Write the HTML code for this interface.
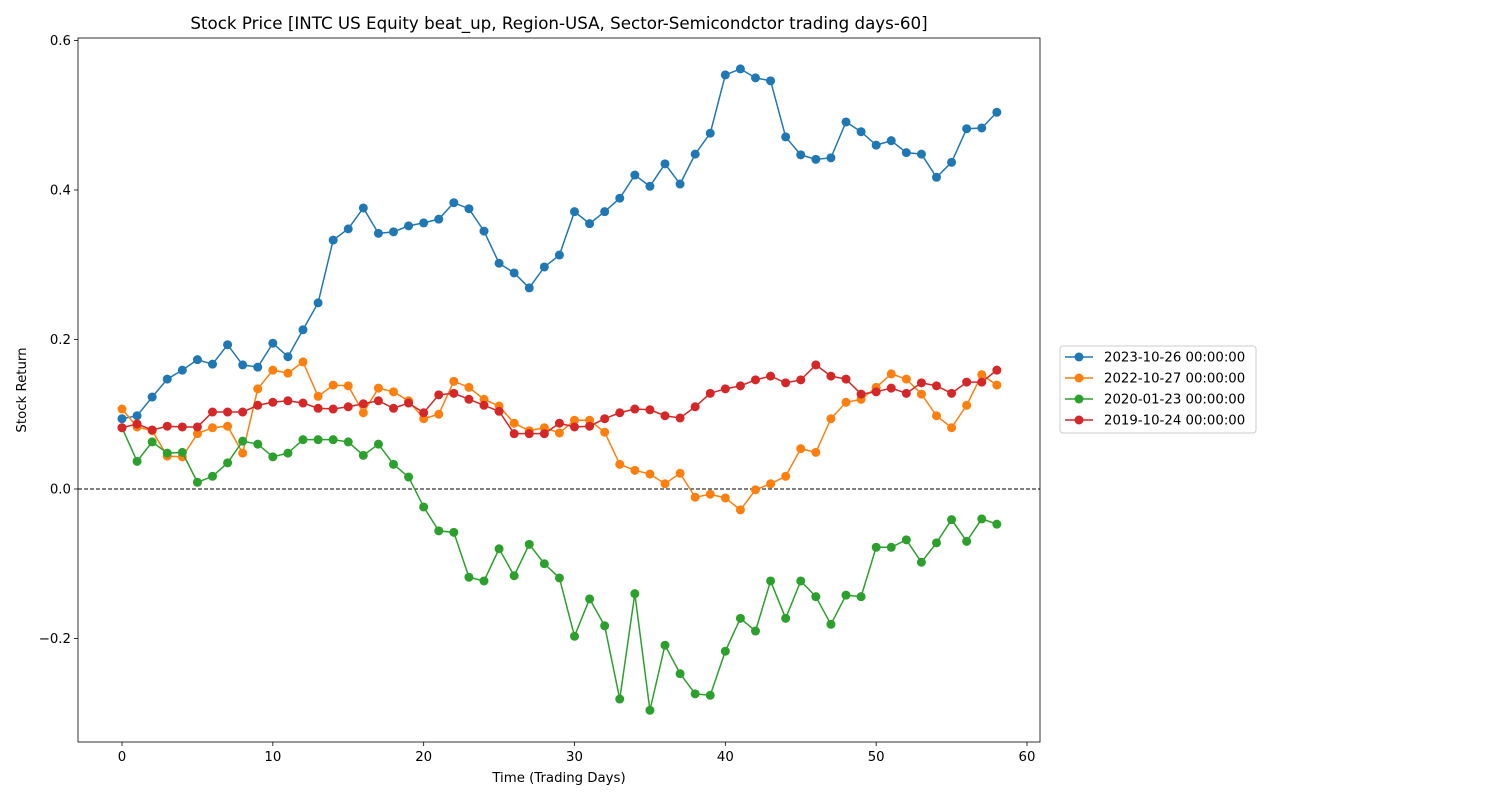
<!DOCTYPE html>
<html><head><meta charset="utf-8"><style>
body{margin:0;background:#fff;}
svg{display:block;font-family:"DejaVu Sans","Liberation Sans",sans-serif;}
</style></head><body>
<svg id="chart" width="1500" height="800"></svg>
<script>
const days = Array.from({length:59},(_,i)=>i);
const seriesNames = ["2023-10-26 00:00:00","2022-10-27 00:00:00","2020-01-23 00:00:00","2019-10-24 00:00:00"];
const seriesColors = ["#1f77b4","#ff7f0e","#2ca02c","#d62728"];
const blueVals = [0.094,0.098,0.123,0.147,0.159,0.173,0.167,0.193,0.166,0.163,0.195,0.177,0.213,0.249,0.333,0.348,0.376,0.342,0.344,0.352,0.356,0.361,0.383,0.375,0.345,0.302,0.289,0.269,0.297,0.313,0.371,0.355,0.371,0.389,0.420,0.405,0.435,0.408,0.448,0.476,0.554,0.562,0.550,0.546,0.471,0.447,0.441,0.443,0.491,0.478,0.460,0.466,0.450,0.448,0.417,0.437,0.482,0.483,0.504];
const orangeVals = [0.107,0.083,0.078,0.044,0.043,0.074,0.082,0.084,0.048,0.134,0.159,0.155,0.170,0.124,0.139,0.138,0.102,0.135,0.130,0.118,0.094,0.100,0.144,0.136,0.120,0.111,0.088,0.078,0.082,0.075,0.092,0.092,0.076,0.033,0.025,0.020,0.007,0.021,-0.011,-0.007,-0.012,-0.028,-0.001,0.007,0.017,0.054,0.049,0.094,0.116,0.120,0.136,0.154,0.147,0.127,0.098,0.082,0.112,0.153,0.139];
const greenVals = [0.082,0.037,0.063,0.048,0.049,0.009,0.017,0.035,0.064,0.060,0.043,0.048,0.066,0.066,0.066,0.063,0.045,0.060,0.033,0.016,-0.024,-0.056,-0.058,-0.118,-0.123,-0.080,-0.116,-0.074,-0.100,-0.119,-0.197,-0.147,-0.183,-0.281,-0.140,-0.296,-0.209,-0.247,-0.274,-0.276,-0.217,-0.173,-0.190,-0.123,-0.173,-0.123,-0.144,-0.181,-0.142,-0.144,-0.078,-0.078,-0.068,-0.098,-0.072,-0.041,-0.070,-0.040,-0.047];
const redVals = [0.082,0.087,0.079,0.084,0.083,0.083,0.103,0.103,0.103,0.112,0.116,0.118,0.115,0.108,0.107,0.110,0.114,0.118,0.108,0.115,0.102,0.126,0.128,0.120,0.112,0.104,0.074,0.074,0.074,0.088,0.083,0.084,0.094,0.102,0.107,0.106,0.098,0.095,0.110,0.128,0.134,0.138,0.146,0.151,0.142,0.146,0.166,0.151,0.147,0.127,0.130,0.135,0.128,0.142,0.138,0.128,0.143,0.143,0.159];
const xTicks = [0,10,20,30,40,50,60];
const yTicks = [-0.2,0.0,0.2,0.4,0.6];
const yTickLabels = ["\u22120.2","0.0","0.2","0.4","0.6"];

const NS="http://www.w3.org/2000/svg";
const svg=document.getElementById('chart');
const L=78,R=1040,T=38,B=742;
const xS=v=>122+v*(1027-122)/60;
const yS=v=>489-v*747.5;
function mk(tag,attrs,parent){const e=document.createElementNS(NS,tag);for(const k in attrs)e.setAttribute(k,attrs[k]);(parent||svg).appendChild(e);return e;}

const title=mk('text',{x:559,y:29,'text-anchor':'middle','font-size':16.7,fill:'#000'});
title.textContent="Stock Price [INTC US Equity beat_up, Region-USA, Sector-Semicondctor trading days-60]";



xTicks.forEach(t=>{
  const x=xS(t);
  const tk=mk('line',{x1:x,x2:x,y1:B,y2:B+4,stroke:'#000','stroke-width':0.8});
  
  
  const lb=mk('text',{x:x,y:B+19,'text-anchor':'middle','font-size':13.3});
  lb.textContent=t;
  
  
});
yTicks.forEach((t,i)=>{
  const y=yS(t);
  const tk=mk('line',{x1:L-4,x2:L,y1:y,y2:y,stroke:'#000','stroke-width':0.8});
  
  
  const lb=mk('text',{x:L-7,y:y+4.5,'text-anchor':'end','font-size':13.3});
  lb.textContent=yTickLabels[i];
  
  
});
const xl=mk('text',{x:559,y:782,'text-anchor':'middle','font-size':13.3});
xl.textContent="Time (Trading Days)";


const yl=mk('text',{x:26,y:390,'text-anchor':'middle','font-size':13.3,transform:'rotate(-90 26 390)'});
yl.textContent="Stock Return";



const zl=mk('line',{x1:L,x2:R,y1:yS(0),y2:yS(0),stroke:'#000','stroke-width':1,'stroke-dasharray':'4,2'});



const allVals=[blueVals,orangeVals,greenVals,redVals];
allVals.forEach((vals,si)=>{
  const g=mk('g',{});
  
  
  const pts=vals.map((v,i)=>xS(days[i])+','+yS(v)).join(' ');
  const pl=mk('polyline',{points:pts,fill:'none',stroke:seriesColors[si],'stroke-width':1.5},g);
  
  
  vals.forEach((v,i)=>{
    const c=mk('circle',{cx:xS(days[i]),cy:yS(v),r:4.5,fill:seriesColors[si]},g);
    
    
  });
});

const frame=mk('rect',{x:L,y:T,width:R-L,height:B-T,fill:'none',stroke:'#000','stroke-width':0.8});



const lg=mk('g',{});


mk('rect',{x:1060,y:346,width:196,height:87,rx:3,fill:'#fff',stroke:'#ccc','stroke-width':1},lg);
seriesNames.forEach((n,i)=>{
  const y=357+i*21;
  const e=mk('g',{},lg);
  
  
  mk('line',{x1:1065,x2:1093,y1:y,y2:y,stroke:seriesColors[i],'stroke-width':1.5},e);
  mk('circle',{cx:1079,cy:y,r:4.5,fill:seriesColors[i]},e);
  const t=mk('text',{x:1104,y:y+4.5,'font-size':13.3},e);
  t.textContent=n;
});
</script>
</body></html>
